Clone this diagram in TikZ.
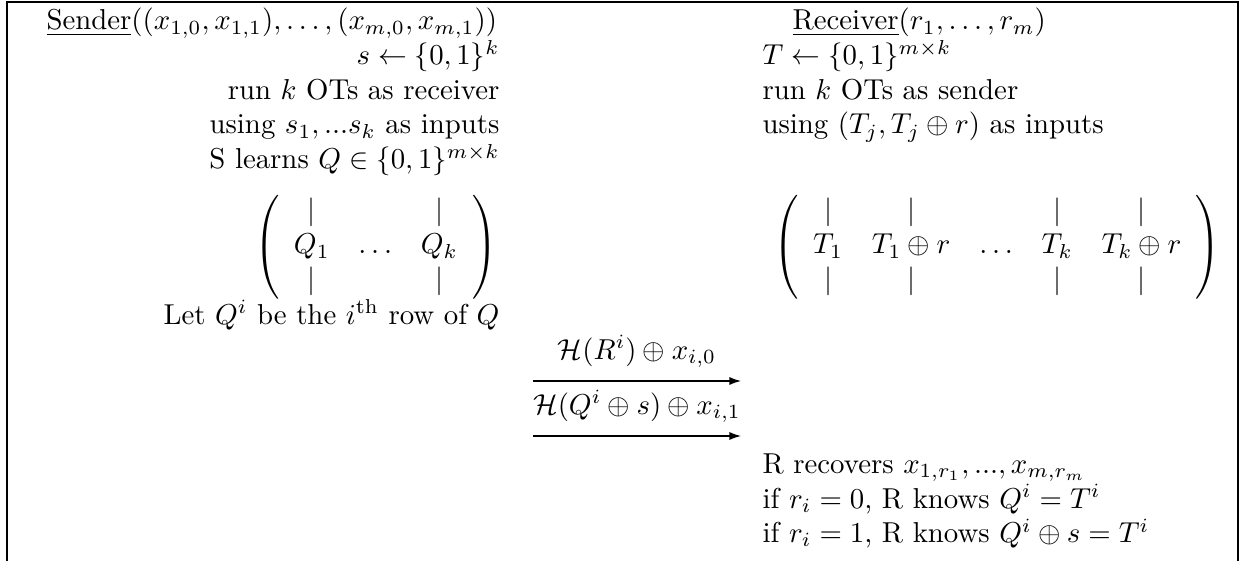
\documentclass[tikz,border=0pt]{standalone}
\usepackage{amsmath}
\usetikzlibrary{arrows.meta}
\tikzset{
  lt/.style={anchor=base east, inner sep=0pt},
  rt/.style={anchor=base west, inner sep=0pt},
  frame/.style={line width=0.4pt, draw=black},
  msg/.style={line width=0.45pt, -{Latex[length=4pt,width=2.8pt]}},
  msglabel/.style={above=4.5pt, inner sep=0pt}
}
\begin{document}
\begin{tikzpicture}[x=0.3472pt, y=-0.3472pt]
\useasboundingbox (0,0) rectangle (1241,561);
% frame
\coordinate (fbl) at (7,561);
\coordinate (ftl) at (7,2);
\coordinate (ftr) at (1238,2);
\coordinate (fbr) at (1238,561);
\draw[frame] (fbl) -- (ftl) -- (ftr) -- (fbr);
% sender column
\node[rt] (sh) at (46,30) {$\underline{\text{Sender}}((x_{1,0},x_{1,1}),\ldots,(x_{m,0},x_{m,1}))$};
\node[lt] (s1) at (500,65) {$s \leftarrow \{0,1\}^k$};
\node[lt] (s2) at (500,99.5) {run $k$ OTs as receiver};
\node[lt] (s3) at (500,134) {using $s_1, ...s_k$ as inputs};
\node[lt] (s4) at (500,168.5) {S learns $Q \in \{0,1\}^{m\times k}$};
\node[anchor=east, inner sep=0pt] (sm) at (498,247) {$\left(\begin{array}{ccc} | & & | \\ Q_1 & \ldots & Q_k \\ | & & | \end{array}\right)$};
\node[lt] (s5) at (500,324) {Let $Q^i$ be the $i^{\text{th}}$ row of $Q$};
% receiver column
\node[rt] (rh) at (792,30) {$\underline{\text{Receiver}}(r_1,\ldots,r_m)$};
\node[rt] (r1) at (762,65) {$T \leftarrow \{0,1\}^{m\times k}$};
\node[rt] (r2) at (762,99.5) {run $k$ OTs as sender};
\node[rt] (r3) at (762,134) {using $(T_j, T_j\oplus r)$ as inputs};
\node[anchor=west, inner sep=0pt] (rm) at (773,247) {$\left(\begin{array}{ccccc} | & | & & | & | \\ T_1 & T_1\oplus r & \ldots & T_k & T_k\oplus r \\ | & | & & | & | \end{array}\right)$};
\node[rt] (r4) at (762,473) {R recovers $x_{1,r_1}, ..., x_{m,r_m}$};
\node[rt] (r5) at (762,508) {if $r_i = 0$, R knows $Q^i = T^i$};
\node[rt] (r6) at (762,542.5) {if $r_i = 1$, R knows $Q^i \oplus s = T^i$};
% messages
\coordinate (m1s) at (533,381);
\coordinate (m1e) at (741,381);
\coordinate (m2s) at (533,436);
\coordinate (m2e) at (741,436);
\draw[msg] (m1s) -- node[msglabel] (l1) {$\mathcal{H}(R^i)\oplus x_{i,0}$} (m1e);
\draw[msg] (m2s) -- node[msglabel] (l2) {$\mathcal{H}(Q^i\oplus s)\oplus x_{i,1}$} (m2e);
\end{tikzpicture}
\end{document}
